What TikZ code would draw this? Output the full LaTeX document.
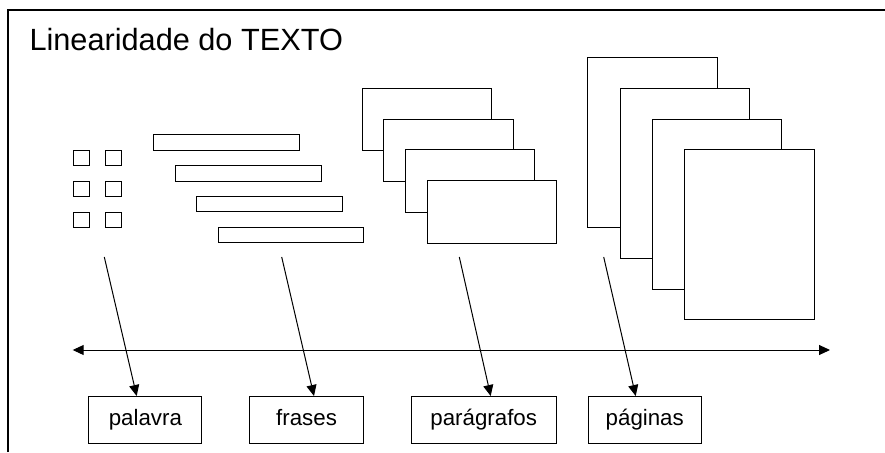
\documentclass[tikz,border=0pt]{standalone}
\usepackage{fontspec}
\setmainfont{Liberation Sans}
\usetikzlibrary{arrows.meta,calc}
\begin{document}
\begin{tikzpicture}[x=1pt,y=-1pt,
  box/.style={draw=black,line width=1.1pt,fill=white,inner sep=0pt,anchor=north west},
  lab/.style={draw=black,line width=1.1pt,fill=white,inner sep=0pt,minimum width=113pt,minimum height=46.5pt,anchor=north west,text height=16pt,text depth=4.7pt,font=\fontsize{22.3}{26}\selectfont},
  conn/.style={line width=1pt,-{Triangle[length=11pt,width=10pt]}}]
\useasboundingbox (0,0) rectangle (885,452);
\draw[line width=1.7pt] (8,452) -- (8,10) -- (885,10);
\node[anchor=base west,inner sep=0pt,font=\fontsize{30.7}{36}\selectfont] (title) at (29.3,50) {Linearidade do TEXTO};
% words
\foreach \r/\yy in {1/150,2/181,3/212}{
  \node[box,minimum width=16pt,minimum height=15pt] (w\r a) at (73.3,\yy) {};
  \node[box,minimum width=16pt,minimum height=15pt] (w\r b) at (105,\yy) {};
}
% sentences
\node[box,minimum width=145.5pt,minimum height=15.5pt] (f1) at (153.3,134.3) {};
\node[box,minimum width=145.5pt,minimum height=15.5pt] (f2) at (175,165) {};
\node[box,minimum width=145.5pt,minimum height=15.5pt] (f3) at (196.3,195.8) {};
\node[box,minimum width=145.5pt,minimum height=15.5pt] (f4) at (217.7,226.7) {};
% paragraphs
\node[box,minimum width=129.3pt,minimum height=62.5pt] (p1) at (362,87.5) {};
\node[box,minimum width=129.3pt,minimum height=62.5pt] (p2) at (383.3,118.5) {};
\node[box,minimum width=129.3pt,minimum height=62.5pt] (p3) at (404.7,149.3) {};
\node[box,minimum width=129.3pt,minimum height=62.5pt] (p4) at (426.7,180) {};
% pages
\node[box,minimum width=129.3pt,minimum height=170pt] (g1) at (587.3,56.7) {};
\node[box,minimum width=129.3pt,minimum height=170pt] (g2) at (620,87.7) {};
\node[box,minimum width=129.3pt,minimum height=170pt] (g3) at (652,118.7) {};
\node[box,minimum width=129.3pt,minimum height=170pt] (g4) at (684.3,149.3) {};
% axis
\coordinate (axl) at (72.7,350);
\coordinate (axr) at (830,350);
\draw[line width=1pt,{Triangle[length=11pt,width=10pt]}-{Triangle[length=11pt,width=10pt]}] (axl) -- (axr);
% labels
\node[lab] (l1) at (88.3,396) {palavra};
\node[lab,minimum width=113.4pt] (l2) at (249.3,396) {frases};
\node[lab,minimum width=145pt] (l3) at (410.7,396) {parágrafos};
\node[lab] (l4) at (587.7,396) {páginas};
% connectors
\coordinate (s1) at (104.3,257);
\coordinate (s2) at (281.7,257);
\coordinate (s3) at (459.3,257);
\coordinate (s4) at (603.7,257);
\draw[conn] (s1) -- ($(l1.north west)+(48.4,0)$);
\draw[conn] (s2) -- ($(l2.north west)+(64.7,0)$);
\draw[conn] (s3) -- ($(l3.north west)+(80,0)$);
\draw[conn] (s4) -- ($(l4.north west)+(48,0)$);
\end{tikzpicture}
\end{document}
